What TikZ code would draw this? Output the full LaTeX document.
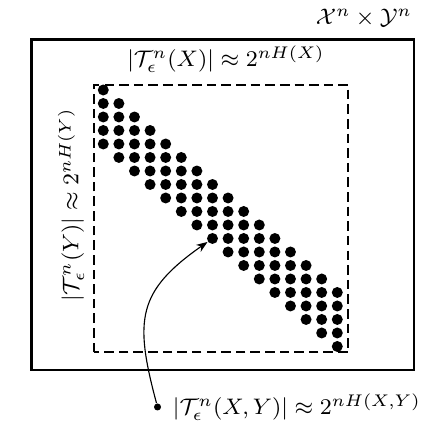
\documentclass[tikz,border=0pt]{standalone}
\usepackage{amsmath,amssymb}
\usepackage{xcolor}
\usetikzlibrary{positioning,arrows.meta,calc}

\begin{document}
\begin{tikzpicture}[
        pt/.style={circle, fill=black, inner sep=0pt, minimum size=3.9pt},
        tip/.style={circle, fill=black, inner sep=0pt, minimum size=2.5pt},
        typbox/.style={black, dash pattern=on 3.4pt off 1.8pt, line width=0.7pt},
        lab/.style={inner sep=1pt, font=\fontsize{8.1}{10}\selectfont}
      ]
        \useasboundingbox (0,0) rectangle (5.5,5.4625);
        \def\dx{0.195}
        \def\dy{0.16875}
        % whole space X^n x Y^n
        \draw[line width=0.75pt] (0.394,0.8375) rectangle (5.179,4.969);
        \node[lab] (space) at (4.55,5.2375) {$\mathcal{X}^n\times\mathcal{Y}^n$};
        % typical sets of X and Y
        \draw[typbox] (1.175,1.059) rectangle (4.354,4.4);
        \node[lab] (tx) at (2.825,4.725) {$|\mathcal{T}_\epsilon^n(X)|\approx 2^{nH(X)}$};
        \node[lab, rotate=90] (ty) at (0.8875,2.9) {$|\mathcal{T}_\epsilon^n(Y)|\approx 2^{nH(Y)}$};
        % jointly typical pairs: a band along the diagonal
        \foreach \row in {0,...,19}{
          \pgfmathtruncatemacro\cmin{max(0,\row-4)}
          \pgfmathtruncatemacro\cmax{min(\row,15)}
          \foreach \col in {\cmin,...,\cmax}
            \node[pt] (d\row-\col) at (1.291+\col*\dx, 4.3375-\row*\dy) {};
        }
        % label of the jointly typical set
        \node[tip] (jt) at (1.969,0.375) {};
        \node[lab, right=0.1 of jt] (txy) {$|\mathcal{T}_\epsilon^n(X,Y)|\approx 2^{nH(X,Y)}$};
        \draw[line width=0.4pt, -{Stealth[length=4pt]}]
              (jt) to[out=105, in=215, looseness=1.3] (d11-7);
      \end{tikzpicture}
\end{document}
